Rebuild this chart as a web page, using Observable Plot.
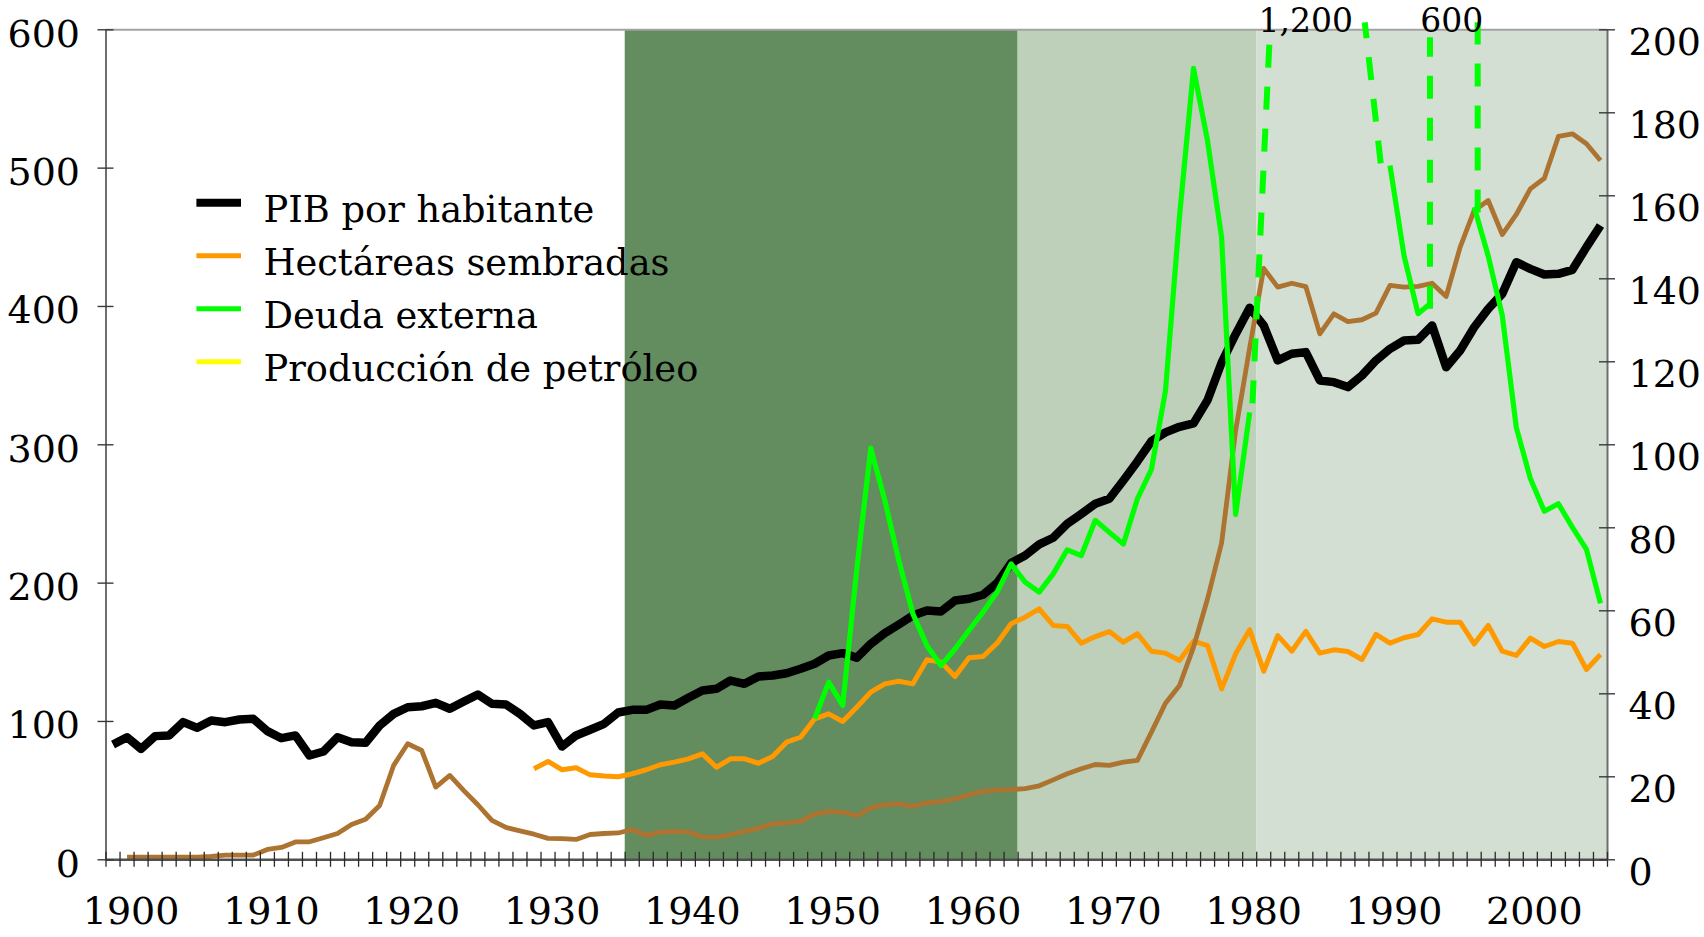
<!DOCTYPE html>
<html>
<head>
<meta charset="utf-8">
<script src="https://cdn.jsdelivr.net/npm/d3@7"></script>
<script src="https://cdn.jsdelivr.net/npm/@observablehq/plot@0.6"></script>
<style>
  html, body { margin: 0; padding: 0; background: #ffffff; }
  #chart { position: relative; width: 1704px; height: 937px; }
</style>
</head>
<body>
<div id="chart"></div>
<script>
// ---------- DATA ----------
const firstYear = 1898;
const lastYear = 2004;

// PIB por habitante (left axis), 1898-2004
const pib = [
  83.4, 88.6, 80.2, 89.4, 89.9, 99.5, 95.4, 100.7, 99.5, 101.4,
  101.9, 93.0, 87.9, 89.9, 75.4, 78.3, 88.6, 85.0, 84.6, 97.1,
  105.5, 110.3, 111.0, 113.5, 109.2, 114.4, 119.5, 112.8, 112.3, 105.5,
  97.1, 99.5, 81.9, 89.9, 94.0, 98.3, 106.5, 108.4, 108.4, 112.3,
  111.5, 117.1, 122.4, 123.6, 129.6, 127.2, 132.5, 133.2, 134.9, 138.1,
  141.7, 147.7, 149.4, 146.0, 156.1, 163.8, 170.1, 176.6, 180.2, 179.5,
  187.4, 188.7, 191.6, 200.0, 214.5, 220.0, 228.0, 232.8, 242.9, 250.0,
  257.4, 261.0, 274.2, 288.0, 302.6, 309.0, 313.0, 315.5, 332.3, 359.4,
  380.0, 399.0, 386.3, 361.0, 365.8, 367.0, 346.5, 345.3, 341.7, 350.1,
  361.0, 369.4, 375.4, 375.9, 386.3, 356.1, 368.2, 385.0, 398.3, 409.2,
  432.0, 427.2, 423.1, 423.6, 426.5, 442.9, 458.5
];

// Hectáreas sembradas (left axis), 1928-2004
const hectareasStart = 1928;
const hectareas = [
  65.8, 71.1, 65.1, 66.5, 61.4, 60.5, 60.0, 62.2, 65.1, 68.7,
  70.6, 73.0, 76.6, 66.9, 73.0, 73.0, 69.8, 74.7, 85.0, 88.6,
  101.9, 105.5, 100.0, 110.3, 121.2, 127.2, 129.1, 127.2, 144.6, 142.9,
  132.5, 146.0, 147.0, 156.6, 170.6, 175.4, 181.4, 169.4, 168.7, 156.6,
  161.4, 165.0, 157.3, 163.4, 150.8, 149.4, 144.1, 158.0, 154.9, 123.6,
  148.9, 166.3, 136.3, 162.1, 150.8, 165.1, 149.4, 151.8, 150.6, 144.8,
  162.9, 156.6, 160.5, 162.9, 174.2, 171.8, 171.8, 156.1, 169.4, 150.8,
  147.7, 160.2, 154.2, 157.8, 156.6, 137.6, 148.4
];

// Producción de petróleo (left axis), 1899-2004
const petroleoStart = 1899;
const petroleo = [
  1.9, 1.9, 1.9, 1.9, 1.9, 1.9, 2.4, 3.4, 3.4, 3.4,
  7.5, 8.9, 12.9, 13.0, 15.9, 19.0, 25.5, 29.3, 39.3, 68.3,
  83.9, 79.0, 52.6, 61.0, 50.0, 39.8, 28.5, 23.4, 20.9, 18.5,
  15.5, 15.3, 14.7, 18.3, 19.0, 19.4, 21.9, 17.6, 20.0, 20.5,
  20.0, 16.4, 16.4, 18.1, 20.5, 22.9, 26.0, 26.7, 27.7, 33.2,
  34.9, 34.4, 32.0, 37.5, 39.9, 40.4, 38.7, 41.1, 42.3, 44.0,
  47.1, 49.5, 50.5, 50.7, 51.5, 53.5, 57.8, 62.2, 65.8, 68.9,
  68.2, 70.6, 71.8, 92.3, 113.2, 126.0, 153.7, 188.7, 229.0, 310.3,
  370.0, 427.5, 414.0, 416.8, 414.4, 380.2, 394.7, 389.1, 390.4, 395.2,
  415.2, 414.0, 414.5, 416.8, 407.2, 442.9, 469.4, 476.6, 452.0, 466.5,
  485.0, 492.7, 522.9, 524.8, 517.6, 505.5
];

// Deuda externa (right axis), 1948-2004; null = off the chart
const deudaStart = 1948;
const deuda = [
  34.0, 42.8, 37.2, 70.0, 99.2, 86.6, 72.1, 59.3, 51.6, 46.8,
  50.8, 55.3, 59.7, 64.5, 71.3, 66.9, 64.5, 68.9, 74.7, 73.3,
  81.8, 78.9, 76.1, 87.0, 94.1, 113.0, 155.0, 190.7, 173.2, 150.0,
  83.2, 107.8, null, null, null, null, null, null, null, null,
  null, 167.3, 145.6, 131.6, 134.4, null, null, 157.3, 145.5, 131.2,
  104.2, 91.9, 84.0, 85.8, 80.1, 74.8, 61.8
];

// Dashed connectors of the debt line where it leaves the chart (right-axis units)
const deudaBreaks = [
  {id: "a", year: 1979.2, value: 110.0}, {id: "a", year: 1980.45, value: 200.0},
  {id: "b", year: 1988.34, value: 167.8}, {id: "b", year: 1987.2, value: 201.8},
  {id: "c", year: 1991.85, value: 132.8}, {id: "c", year: 1991.85, value: 198.2},
  {id: "d", year: 1995.25, value: 156.0}, {id: "d", year: 1995.25, value: 201.8}
];
const breakLabels = [
  {x: 1983.5, text: "1,200"},
  {x: 1993.9, text: "600"}
];

// Shaded periods
const periods = [
  {start: 1935, end: 1963, fill: "#638c5f"},
  {start: 1963, end: 1980, fill: "#bed0ba"},
  {start: 1980, end: 2005, fill: "#d3dfd2"}
];

// Axes
const leftTicks = [0, 100, 200, 300, 400, 500, 600];
const rightTicks = [0, 20, 40, 60, 80, 100, 120, 140, 160, 180, 200];
const decadeLabels = [1900, 1910, 1920, 1930, 1940, 1950, 1960, 1970, 1980, 1990, 2000];
const yearTicks = d3.range(1898, 2006);
const rightRatio = 600 / 200;

// Legend
const legendItems = [
  {label: "PIB por habitante", color: "#000000", width: 8},
  {label: "Hectáreas sembradas", color: "#ff9900", width: 5},
  {label: "Deuda externa", color: "#00ff00", width: 5},
  {label: "Producción de petróleo", color: "#ffff00", width: 5}
];

// ---------- TABLES ----------
const years = d3.range(firstYear, lastYear + 1);
const at = (arr, start, y) => {
  const v = arr[y - start];
  return v === undefined ? null : v;
};
const rows = years.map(year => ({
  year,
  pib: at(pib, firstYear, year),
  hect: year >= hectareasStart ? at(hectareas, hectareasStart, year) : null,
  petro: year >= petroleoStart ? at(petroleo, petroleoStart, year) : null,
  deuda: year >= deudaStart ? at(deuda, deudaStart, year) : null
}));
const pos = d => d.year + 0.5;
const FONT = "DejaVu Serif";

const chart = Plot.plot({
  width: 1704,
  height: 937,
  marginLeft: 105.5,
  marginRight: 97,
  marginTop: 29.3,
  marginBottom: 77.7,
  x: {domain: [1898, 2005], axis: null},
  y: {domain: [0, 600], axis: null},
  color: {type: "identity"},
  style: {fontFamily: FONT, fontSize: "38px", background: "#ffffff"},
  marks: [
    Plot.rect(periods, {x1: "start", x2: "end", y1: 0, y2: 600, fill: "fill"}),
    Plot.ruleY([600], {stroke: "#a3a3a3", strokeWidth: 2}),

    // series
    Plot.line(rows, {x: pos, y: "pib", stroke: "#000000", strokeWidth: 8.5, strokeLinecap: "butt", strokeLinejoin: "round"}),
    Plot.line(rows, {x: pos, y: "hect", stroke: "#ff9900", strokeWidth: 5, strokeLinecap: "butt", strokeLinejoin: "round"}),
    Plot.line(rows, {x: pos, y: "petro", stroke: "#ad7330", strokeWidth: 4.8, strokeLinecap: "butt", strokeLinejoin: "round"}),
    Plot.line(rows, {x: pos, y: d => d.deuda == null ? NaN : d.deuda * rightRatio, stroke: "#00ff00", strokeWidth: 5.2, strokeLinecap: "butt", strokeLinejoin: "round"}),
    Plot.line(deudaBreaks, {x: pos, y: d => d.value * rightRatio, z: "id", stroke: "#00ff00", strokeWidth: 6, strokeDasharray: "23,19", strokeLinecap: "butt"}),

    // axis lines
    Plot.ruleX([1898], {stroke: "#6e6e6e", strokeWidth: 2}),
    Plot.ruleX([2005], {stroke: "#6e6e6e", strokeWidth: 2}),
    Plot.ruleY([0], {stroke: "#505050", strokeWidth: 2.6}),

    // ticks
    Plot.ruleX(yearTicks, {x: d => d, y1: 0, y2: 0, insetTop: -7.5, insetBottom: -7.5, stroke: "#2a2a2a", strokeWidth: 1.3}),
    Plot.ruleY(leftTicks, {y: d => d, x1: 1898, x2: 1898, insetLeft: -8, insetRight: -8, stroke: "#3a3a3a", strokeWidth: 1.4}),
    Plot.ruleY(rightTicks, {y: d => d * rightRatio, x1: 2005, x2: 2005, insetLeft: -8, insetRight: -8, stroke: "#3a3a3a", strokeWidth: 1.4}),

    // tick labels
    Plot.text(leftTicks, {y: d => d, text: d => String(d), frameAnchor: "left", textAnchor: "end", lineAnchor: "bottom", dx: -26, dy: 17, fontSize: 38, fontFamily: FONT, fill: "#000"}),
    Plot.text(rightTicks, {y: d => d * rightRatio, text: d => String(d), frameAnchor: "right", textAnchor: "start", lineAnchor: "bottom", dx: 21, dy: 25.5, fontSize: 38, fontFamily: FONT, fill: "#000"}),
    Plot.text(decadeLabels, {x: d => d, text: d => String(d), frameAnchor: "bottom", textAnchor: "middle", lineAnchor: "bottom", dx: -3, dy: 64, fontSize: 38, fontFamily: FONT, fill: "#000"}),

    // off-chart values
    Plot.text(breakLabels, {x: "x", y: 600, text: "text", textAnchor: "middle", lineAnchor: "bottom", dy: 2, fontSize: 33, fontFamily: FONT, fill: "#000"})
  ]
});

document.getElementById("chart").appendChild(chart);

// Legend inside the plot area
const svg = d3.select(chart);
const lg = svg.append("g")
  .attr("transform", "translate(196.4,221.7)")
  .attr("text-anchor", "start");
legendItems.forEach((item, i) => {
  const row = lg.append("g").attr("transform", `translate(0,${i * 53})`);
  row.append("line")
    .attr("x1", 0).attr("x2", 44.6)
    .attr("y1", -19).attr("y2", -19)
    .attr("stroke", item.color)
    .attr("stroke-width", item.width);
  row.append("text")
    .attr("x", 67).attr("y", 0)
    .attr("text-anchor", "start")
    .attr("font-family", FONT)
    .attr("font-size", 36.8)
    .attr("fill", "#000")
    .text(item.label);
});
</script>
</body>
</html>
